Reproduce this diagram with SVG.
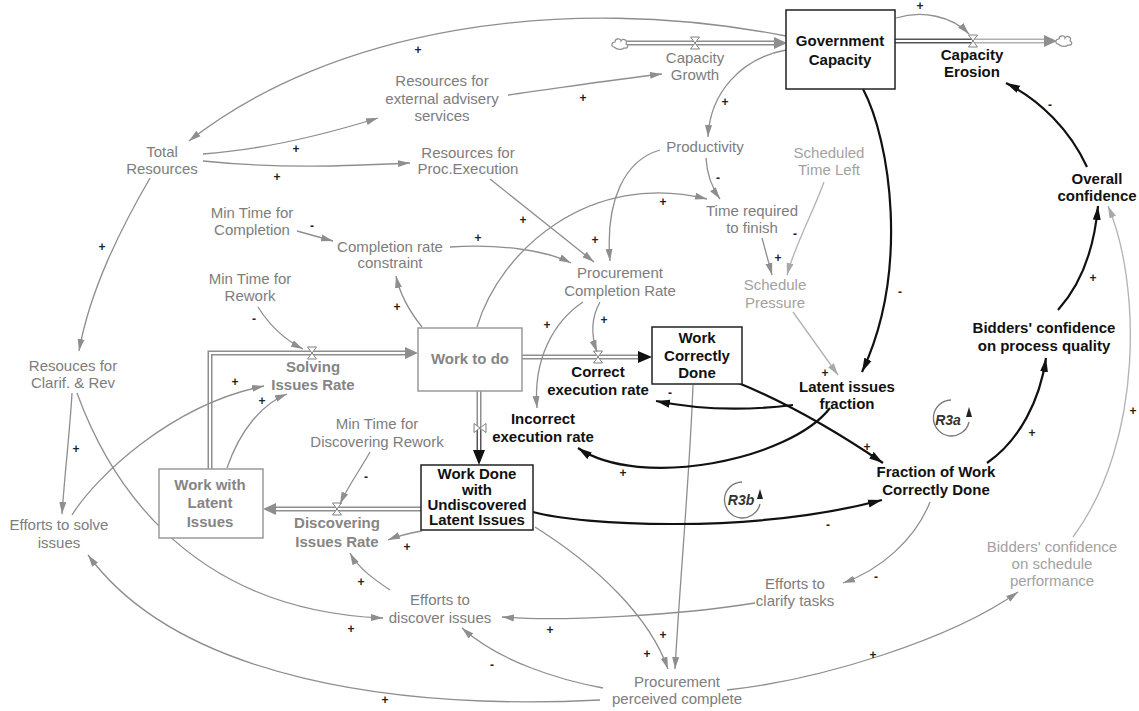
<svg xmlns="http://www.w3.org/2000/svg" width="1139" height="711" viewBox="0 0 1139 711">
<defs>
<style>
.t{font-family:"Liberation Sans",Arial,sans-serif;font-size:15px;text-anchor:middle;fill:#7d7d7d}
.lt{fill:#a2a2a2}
.b{font-weight:bold;fill:#111}
.gb{font-weight:bold;fill:#858585}
.sg{font-family:"Liberation Sans",Arial,sans-serif;font-size:12px;font-weight:bold;text-anchor:middle;fill:#222}
.lk{fill:none;stroke:#8e8e8e;stroke-width:1.3;marker-end:url(#ag)}
.lkl{fill:none;stroke:#b2b2b2;stroke-width:1.3;marker-end:url(#agl)}
.bk{fill:none;stroke:#111;stroke-width:2.2;marker-end:url(#ab)}
.po{fill:none;stroke:#8e8e8e;stroke-width:5}
.pd{fill:none;stroke:#555;stroke-width:5}
.pl{fill:none;stroke:#b0b0b0;stroke-width:5}
.pi{fill:none;stroke:#fff;stroke-width:2}
.ph{fill:#8e8e8e}
.phk{fill:#111}
.valve{fill:#fff;stroke:#808080;stroke-width:1}
.box{fill:#fff;stroke:#9a9a9a;stroke-width:1.5}
.boxb{fill:#fff;stroke:#222;stroke-width:1.5}
.cloud{fill:#fff;stroke:#8e8e8e;stroke-width:1.2}
.loop{fill:none;stroke:#777;stroke-width:1.3}
.lp{font-family:"Liberation Sans",Arial,sans-serif;font-size:14px;font-style:italic;font-weight:bold;text-anchor:middle;fill:#333}
</style>
<marker id="ag" viewBox="0 0 12 8" refX="12" refY="4" markerWidth="12" markerHeight="8" orient="auto" markerUnits="userSpaceOnUse"><path d="M0,0.5 L12,4 L0,7.5 Z" fill="#8e8e8e"/></marker>
<marker id="agl" viewBox="0 0 12 8" refX="12" refY="4" markerWidth="12" markerHeight="8" orient="auto" markerUnits="userSpaceOnUse"><path d="M0,0.5 L12,4 L0,7.5 Z" fill="#a8a8a8"/></marker>
<marker id="ab" viewBox="0 0 14 9" refX="14" refY="4.5" markerWidth="14" markerHeight="9" orient="auto" markerUnits="userSpaceOnUse"><path d="M0,0.5 L14,4.5 L0,8.5 Z" fill="#111"/></marker>
<path id="hg" d="M-4.5,-6 H4.5 L-4.5,6 H4.5 Z"/>
<path id="cl" d="M-6,3 C-9,3 -9,-2 -5,-2 C-5,-6 1,-6 1,-3 C3,-6 8,-4 6,0 C9,1 8,5 4,4 C2,6 -3,6 -6,3 Z"/>
</defs>
<rect width="1139" height="711" fill="#fff"/>

<!-- stock-and-flow pipes -->
<g id="flows">
  <!-- capacity growth -->
  <path class="po" d="M627,43 H774"/><path class="pi" d="M627,43 H774"/>
  <path class="ph" d="M774,37 L787,43 L774,49 Z"/>
  <use href="#cl" x="620" y="44" class="cloud"/>
  <use href="#hg" x="695" y="43" class="valve"/>
  <!-- capacity erosion -->
  <path class="pd" d="M895,41 H973"/><path class="pl" d="M973,41 H1045"/><path class="pi" d="M895,41 H1045"/>
  <path class="ph" d="M1044,35 L1057,41 L1044,47 Z"/>
  <use href="#cl" x="1064" y="41" class="cloud"/>
  <use href="#hg" x="973" y="41" class="valve"/>
  <!-- correct execution rate -->
  <path class="po" d="M522,357 H640"/><path class="pi" d="M522,357 H640"/>
  <path class="phk" d="M638,351 L652,357 L638,363 Z"/>
  <use href="#hg" x="598" y="357" class="valve"/>
  <!-- incorrect execution rate -->
  <path class="po" d="M479,391 V430"/><path class="pd" d="M479,430 V452"/><path class="pi" d="M479,391 V452"/>
  <path class="phk" d="M473,450 L479,465 L485,450 Z"/>
  <use href="#hg" transform="translate(480,428) rotate(90)" class="valve"/>
  <!-- solving issues rate -->
  <path class="po" d="M210,469 V353 H406"/><path class="pi" d="M210,469 V353 H406"/>
  <path class="ph" d="M405,347 L418,353 L405,359 Z"/>
  <use href="#hg" x="312" y="353" class="valve"/>
  <!-- discovering issues rate -->
  <path class="po" d="M421,509 H275"/><path class="pi" d="M421,509 H275"/>
  <path class="ph" d="M276,503 L263,509 L276,515 Z"/>
  <use href="#hg" x="337" y="509" class="valve"/>
</g>

<!-- causal links -->
<g id="links">
  <path class="lk" d="M786,36 C560,-8 330,30 189,141"/>
  <path class="lk" d="M786,50 C742,58 710,92 708,137"/>
  <path class="lk" d="M203,154 C260,150 320,136 378,118"/>
  <path class="lk" d="M203,161 C280,169 350,166 410,163"/>
  <path class="lk" d="M508,95 C560,88 610,80 662,74"/>
  <path class="lk" d="M896,18 C922,10 952,16 969,34"/>
  <path class="lk" d="M706,158 C707,175 712,188 720,199"/>
  <path class="lk" d="M660,150 C625,160 605,200 610,261"/>
  <path class="lk" d="M490,179 L594,262"/>
  <path class="lk" d="M477,327 C500,250 590,170 707,199"/>
  <path class="lk" d="M297,231 L333,241"/>
  <path class="lk" d="M450,247 C500,244 545,250 571,263"/>
  <path class="lk" d="M762,238 L772,275"/>
  <path class="lkl" d="M824,182 C812,215 795,245 787,275"/>
  <path class="lkl" d="M793,312 L838,375"/>
  <path class="lk" d="M422,327 C410,312 400,295 396,276"/>
  <path class="lk" d="M258,307 C270,326 285,340 303,349"/>
  <path class="lk" d="M600,302 C590,320 592,338 597,352"/>
  <path class="lk" d="M583,302 C553,322 533,360 537,408"/>
  <path class="lk" d="M227,468 C240,430 262,404 287,394"/>
  <path class="lk" d="M72,515 C95,478 170,405 264,386"/>
  <path class="lk" d="M150,178 C120,230 90,290 79,351"/>
  <path class="lk" d="M72,393 C70,430 65,470 62,514"/>
  <path class="lk" d="M77,393 C105,470 180,610 383,618"/>
  <path class="lk" d="M370,452 C360,470 348,486 340,504"/>
  <path class="lk" d="M422,531 C410,533 398,536 388,540"/>
  <path class="lk" d="M390,590 C375,580 358,568 350,553"/>
  <path class="lk" d="M693,385 C690,470 680,580 675,669"/>
  <path class="lk" d="M535,527 C600,568 650,618 668,669"/>
  <path class="lk" d="M603,688 C560,680 500,662 462,628"/>
  <path class="lk" d="M600,700 C400,710 180,680 88,555"/>
  <path class="lk" d="M755,603 C680,615 560,622 502,617"/>
  <path class="lk" d="M930,502 C915,540 880,570 843,583"/>
  <path class="lk" d="M727,690 C820,680 950,640 1018,592"/>
  <path class="lkl" d="M1073,537 C1145,440 1140,280 1108,206"/>
  <path class="bk" d="M863,89 C890,140 910,270 862,372"/>
  <path class="bk" d="M793,405 Q720,414 656,401"/>
  <path class="bk" d="M830,408 C790,460 640,490 578,448"/>
  <path class="bk" d="M736,382 Q805,410 883,463"/>
  <path class="bk" d="M533,512 C580,525 750,535 882,500"/>
  <path class="bk" d="M987,463 C1020,440 1040,400 1046,358"/>
  <path class="bk" d="M1058,310 C1085,280 1095,240 1098,206"/>
  <path class="bk" d="M1087,167 C1070,130 1040,100 1006,83"/>
</g>

<!-- link polarities -->
<g id="polarity" class="sg">
  <text x="920" y="10">+</text><text x="418" y="54">+</text><text x="583" y="102">+</text>
  <text x="725" y="106">+</text><text x="296" y="153">+</text><text x="277" y="181">+</text>
  <text x="523" y="224">+</text><text x="663" y="206">+</text><text x="478" y="242">+</text>
  <text x="595" y="244">+</text><text x="397" y="311">+</text><text x="547" y="329">+</text>
  <text x="604" y="324">+</text><text x="778" y="262">+</text><text x="825" y="377">+</text>
  <text x="867" y="451">+</text><text x="623" y="477">+</text><text x="1032" y="437">+</text>
  <text x="1093" y="282">+</text><text x="1133" y="415">+</text><text x="873" y="659">+</text>
  <text x="663" y="639">+</text><text x="647" y="658">+</text><text x="550" y="634">+</text>
  <text x="361" y="586">+</text><text x="351" y="633">+</text><text x="385" y="704">+</text>
  <text x="407" y="551">+</text><text x="262" y="405">+</text><text x="235" y="386">+</text>
  <text x="76" y="453">+</text><text x="102" y="251">+</text>
  <text x="1050" y="109">-</text><text x="900" y="296">-</text><text x="718" y="182">-</text>
  <text x="795" y="238">-</text><text x="312" y="230">-</text><text x="254" y="323">-</text>
  <text x="366" y="481">-</text><text x="670" y="397">-</text><text x="828" y="529">-</text>
  <text x="876" y="581">-</text><text x="492" y="669">-</text>
</g>

<!-- loop markers -->
<g id="loop-R3a">
  <path class="loop" d="M951,400 A18,18 0 1,0 969,422"/>
  <path d="M966,417 L969,407 L972,417 Z" fill="#222"/>
  <text class="lp" x="948" y="425">R3a</text>
</g>
<g id="loop-R3b">
  <path class="loop" d="M742,482 A18,18 0 1,0 760,504"/>
  <path d="M757,499 L760,489 L763,499 Z" fill="#222"/>
  <text class="lp" x="741" y="505">R3b</text>
</g>

<!-- stocks -->
<g id="government-capacity"><rect class="boxb" x="786" y="10" width="109" height="79"/><text class="t b" x="840" y="46">Government</text><text class="t b" x="840" y="65">Capacity</text></g>
<g id="work-to-do"><rect class="box" x="418" y="328" width="104" height="63"/><text class="t gb" x="470" y="364">Work to do</text></g>
<g id="work-correctly-done"><rect class="boxb" x="652" y="327" width="90" height="57"/><text class="t b" x="697" y="343">Work</text><text class="t b" x="697" y="361">Correctly</text><text class="t b" x="697" y="378">Done</text></g>
<g id="work-undiscovered"><rect class="boxb" x="421" y="465" width="112" height="65"/><text class="t b" x="477" y="479">Work Done</text><text class="t b" x="477" y="495">with</text><text class="t b" x="477" y="510">Undiscovered</text><text class="t b" x="477" y="525">Latent Issues</text></g>
<g id="work-latent-issues"><rect class="box" x="159" y="469" width="104" height="69"/><text class="t gb" x="210" y="490">Work with</text><text class="t gb" x="210" y="508">Latent</text><text class="t gb" x="210" y="527">Issues</text></g>

<!-- rates -->
<g id="capacity-growth"><text class="t" x="695" y="63">Capacity</text><text class="t" x="695" y="80">Growth</text></g>
<g id="capacity-erosion"><text class="t b" x="972" y="60">Capacity</text><text class="t b" x="972" y="77">Erosion</text></g>
<g id="correct-execution-rate"><text class="t b" x="598" y="377">Correct</text><text class="t b" x="598" y="395">execution rate</text></g>
<g id="incorrect-execution-rate"><text class="t b" x="543" y="424">Incorrect</text><text class="t b" x="543" y="442">execution rate</text></g>
<g id="solving-issues-rate"><text class="t gb" x="313" y="372">Solving</text><text class="t gb" x="313" y="390">Issues Rate</text></g>
<g id="discovering-issues-rate"><text class="t gb" x="337" y="528">Discovering</text><text class="t gb" x="337" y="547">Issues Rate</text></g>

<!-- auxiliaries -->
<g id="total-resources"><text class="t" x="162" y="157">Total</text><text class="t" x="162" y="174">Resources</text></g>
<g id="resources-advisory"><text class="t" x="442" y="86">Resources for</text><text class="t" x="442" y="104">external advisery</text><text class="t" x="442" y="121">services</text></g>
<g id="resources-proc-execution"><text class="t" x="468" y="158">Resources for</text><text class="t" x="468" y="174">Proc.Execution</text></g>
<g id="productivity"><text class="t" x="705" y="152">Productivity</text></g>
<g id="scheduled-time-left"><text class="t lt" x="829" y="158">Scheduled</text><text class="t lt" x="829" y="175">Time Left</text></g>
<g id="time-required"><text class="t" x="752" y="216">Time required</text><text class="t" x="752" y="233">to finish</text></g>
<g id="min-time-completion"><text class="t" x="252" y="218">Min Time for</text><text class="t" x="252" y="235">Completion</text></g>
<g id="completion-rate-constraint"><text class="t" x="390" y="252">Completion rate</text><text class="t" x="390" y="268">constraint</text></g>
<g id="procurement-completion-rate"><text class="t" x="620" y="278">Procurement</text><text class="t" x="620" y="296">Completion Rate</text></g>
<g id="schedule-pressure"><text class="t lt" x="775" y="290">Schedule</text><text class="t lt" x="775" y="308">Pressure</text></g>
<g id="min-time-rework"><text class="t" x="250" y="284">Min Time for</text><text class="t" x="250" y="301">Rework</text></g>
<g id="latent-issues-fraction"><text class="t b" x="847" y="392">Latent issues</text><text class="t b" x="847" y="409">fraction</text></g>
<g id="bidders-process-quality"><text class="t b" x="1044" y="333">Bidders' confidence</text><text class="t b" x="1044" y="351">on process quality</text></g>
<g id="overall-confidence"><text class="t b" x="1097" y="184">Overall</text><text class="t b" x="1097" y="201">confidence</text></g>
<g id="resources-clarification"><text class="t" x="73" y="371">Resouces for</text><text class="t" x="73" y="388">Clarif. &amp; Rev</text></g>
<g id="min-time-discovering"><text class="t" x="377" y="429">Min Time for</text><text class="t" x="377" y="447">Discovering Rework</text></g>
<g id="fraction-correct"><text class="t b" x="936" y="477">Fraction of Work</text><text class="t b" x="936" y="495">Correctly Done</text></g>
<g id="efforts-solve"><text class="t" x="59" y="530">Efforts to solve</text><text class="t" x="59" y="548">issues</text></g>
<g id="efforts-discover"><text class="t" x="440" y="605">Efforts to</text><text class="t" x="440" y="623">discover issues</text></g>
<g id="efforts-clarify"><text class="t" x="795" y="589">Efforts to</text><text class="t" x="795" y="606">clarify tasks</text></g>
<g id="bidders-schedule"><text class="t lt" x="1052" y="552">Bidders' confidence</text><text class="t lt" x="1052" y="569">on schedule</text><text class="t lt" x="1052" y="586">performance</text></g>
<g id="procurement-perceived-complete"><text class="t" x="677" y="687">Procurement</text><text class="t" x="677" y="704">perceived complete</text></g>
</svg>
